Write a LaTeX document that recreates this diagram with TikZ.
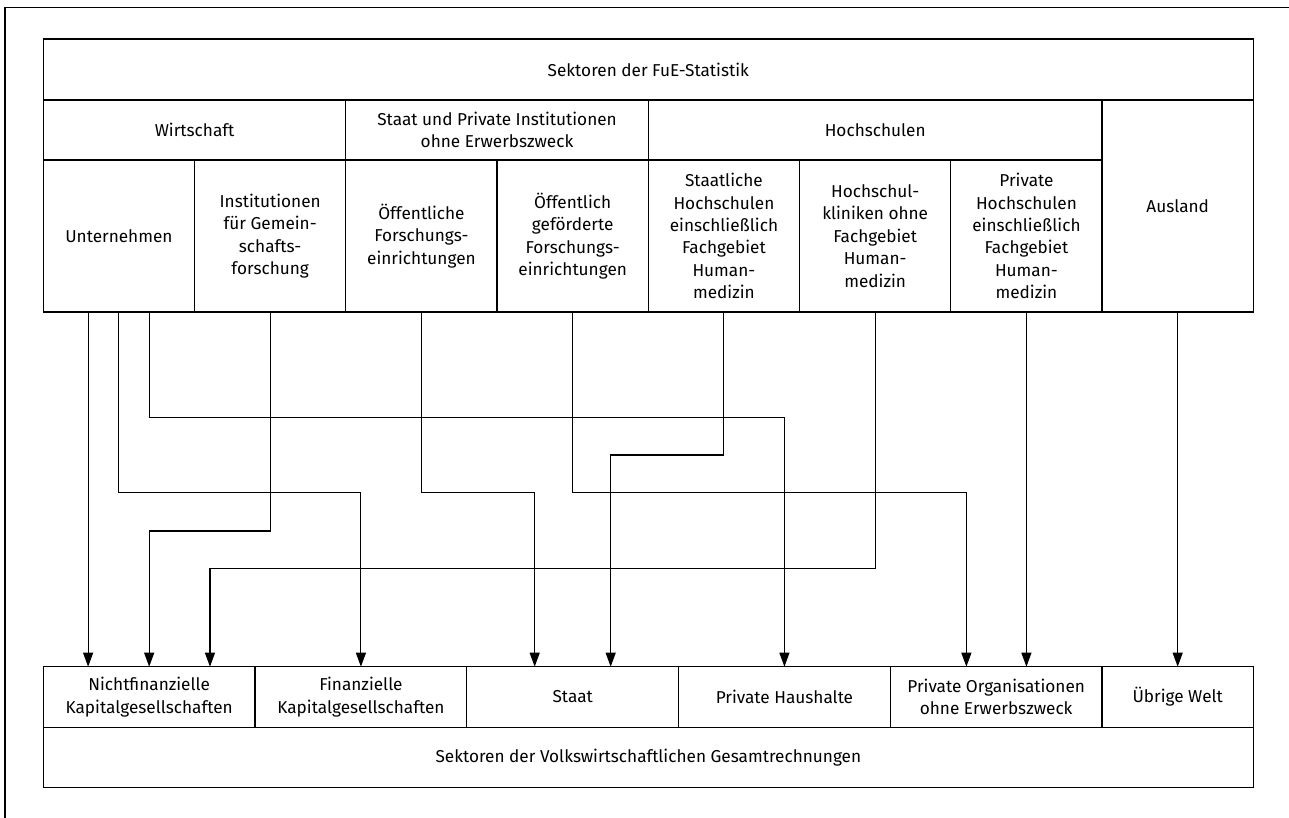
\documentclass[tikz,border=0pt]{standalone}
\usepackage{fontspec}
\setmainfont{Fira Sans}
\usetikzlibrary{arrows.meta,calc}
\begin{document}
\begin{tikzpicture}[x=1pt,y=-1pt,
  cell/.style={draw, line width=1.3pt, inner sep=0pt, outer sep=0pt, align=center,
    anchor=north west, font=\fontsize{17.2}{22.4}\selectfont},
  arr/.style={line width=1.1pt, -{Triangle[length=14pt,width=10pt]}},
  frame/.style={line width=1.5pt}]
\useasboundingbox (0,0) rectangle (1289,818);
\draw[frame] (5,818) -- (5,7.3) -- (1289,7.3);
% top table
\node[cell, minimum width=1210pt, minimum height=61pt] (fue) at (43.3,39) {Sektoren der FuE-Statistik};
\node[cell, minimum width=302.5pt, minimum height=60pt] (wi) at (43.3,100) {Wirtschaft};
\node[cell, minimum width=302.5pt, minimum height=60pt] (spi) at (345.8,100) {Staat und Private Institutionen\\ohne Erwerbszweck};
\node[cell, minimum width=453.75pt, minimum height=60pt] (hs) at (648.3,100) {Hochschulen};
\node[cell, minimum width=151.25pt, minimum height=212pt] (aus) at (1102.05,100) {Ausland};
\node[cell, minimum width=151.25pt, minimum height=152pt] (unt) at (43.3,160) {Unternehmen};
\node[cell, minimum width=151.25pt, minimum height=152pt] (igf) at (194.55,160) {Institutionen\\für Gemein-\\schafts-\\forschung};
\node[cell, minimum width=151.25pt, minimum height=152pt] (oef) at (345.8,160) {Öffentliche\\Forschungs-\\einrichtungen};
\node[cell, minimum width=151.25pt, minimum height=152pt] (oeg) at (497.05,160) {Öffentlich\\geförderte\\Forschungs-\\einrichtungen};
\node[cell, minimum width=151.25pt, minimum height=152pt] (sth) at (648.3,160) {Staatliche\\Hochschulen\\einschließlich\\Fachgebiet\\Human-\\medizin};
\node[cell, minimum width=151.25pt, minimum height=152pt] (hk) at (799.55,160) {Hochschul-\\kliniken ohne\\Fachgebiet\\Human-\\medizin};
\node[cell, minimum width=151.25pt, minimum height=152pt] (prh) at (950.8,160) {Private\\Hochschulen\\einschließlich\\Fachgebiet\\Human-\\medizin};
% bottom table
\node[cell, minimum width=211.75pt, minimum height=60.6pt] (nfk) at (43.3,666.7) {Nichtfinanzielle\\Kapitalgesellschaften};
\node[cell, minimum width=211.75pt, minimum height=60.6pt] (fk) at (255.05,666.7) {Finanzielle\\Kapitalgesellschaften};
\node[cell, minimum width=211.75pt, minimum height=60.6pt] (staat) at (466.8,666.7) {Staat};
\node[cell, minimum width=211.75pt, minimum height=60.6pt] (ph) at (678.55,666.7) {Private Haushalte};
\node[cell, minimum width=211.75pt, minimum height=60.6pt] (po) at (890.3,666.7) {Private Organisationen\\ohne Erwerbszweck};
\node[cell, minimum width=151.25pt, minimum height=60.6pt] (uw) at (1102.05,666.7) {Übrige Welt};
\node[cell, minimum width=1210pt, minimum height=60.4pt] (vgr) at (43.3,727.3) {Sektoren der Volkswirtschaftlichen Gesamtrechnungen};
% routing levels
\coordinate (lvA) at (0,417.3);
\coordinate (lvB) at (0,455);
\coordinate (lvC) at (0,492.7);
\coordinate (lvD) at (0,531);
\coordinate (lvE) at (0,568.3);
% connectors
\draw[arr] ([xshift=-30.8pt]unt.south) -- ([xshift=-30.8pt]unt.south |- nfk.north);
\draw[arr] (unt.south) -- (unt.south |- lvC) -| (fk.north);
\draw[arr] ([xshift=30.8pt]unt.south) -- ([xshift=30.8pt]unt.south |- lvA) -| (ph.north);
\draw[arr] (igf.south) -- (igf.south |- lvD) -| (nfk.north);
\draw[arr] (oef.south) -- (oef.south |- lvC) -| ([xshift=-38pt]staat.north);
\draw[arr] (oeg.south) -- (oeg.south |- lvC) -| ([xshift=-29.8pt]po.north);
\draw[arr] (sth.south) -- (sth.south |- lvB) -| ([xshift=38pt]staat.north);
\draw[arr] (hk.south) -- (hk.south |- lvE) -| ([xshift=60.8pt]nfk.north);
\draw[arr] (prh.south) -- (prh.south |- po.north);
\draw[arr] (aus.south) -- (aus.south |- uw.north);
\end{tikzpicture}
\end{document}
